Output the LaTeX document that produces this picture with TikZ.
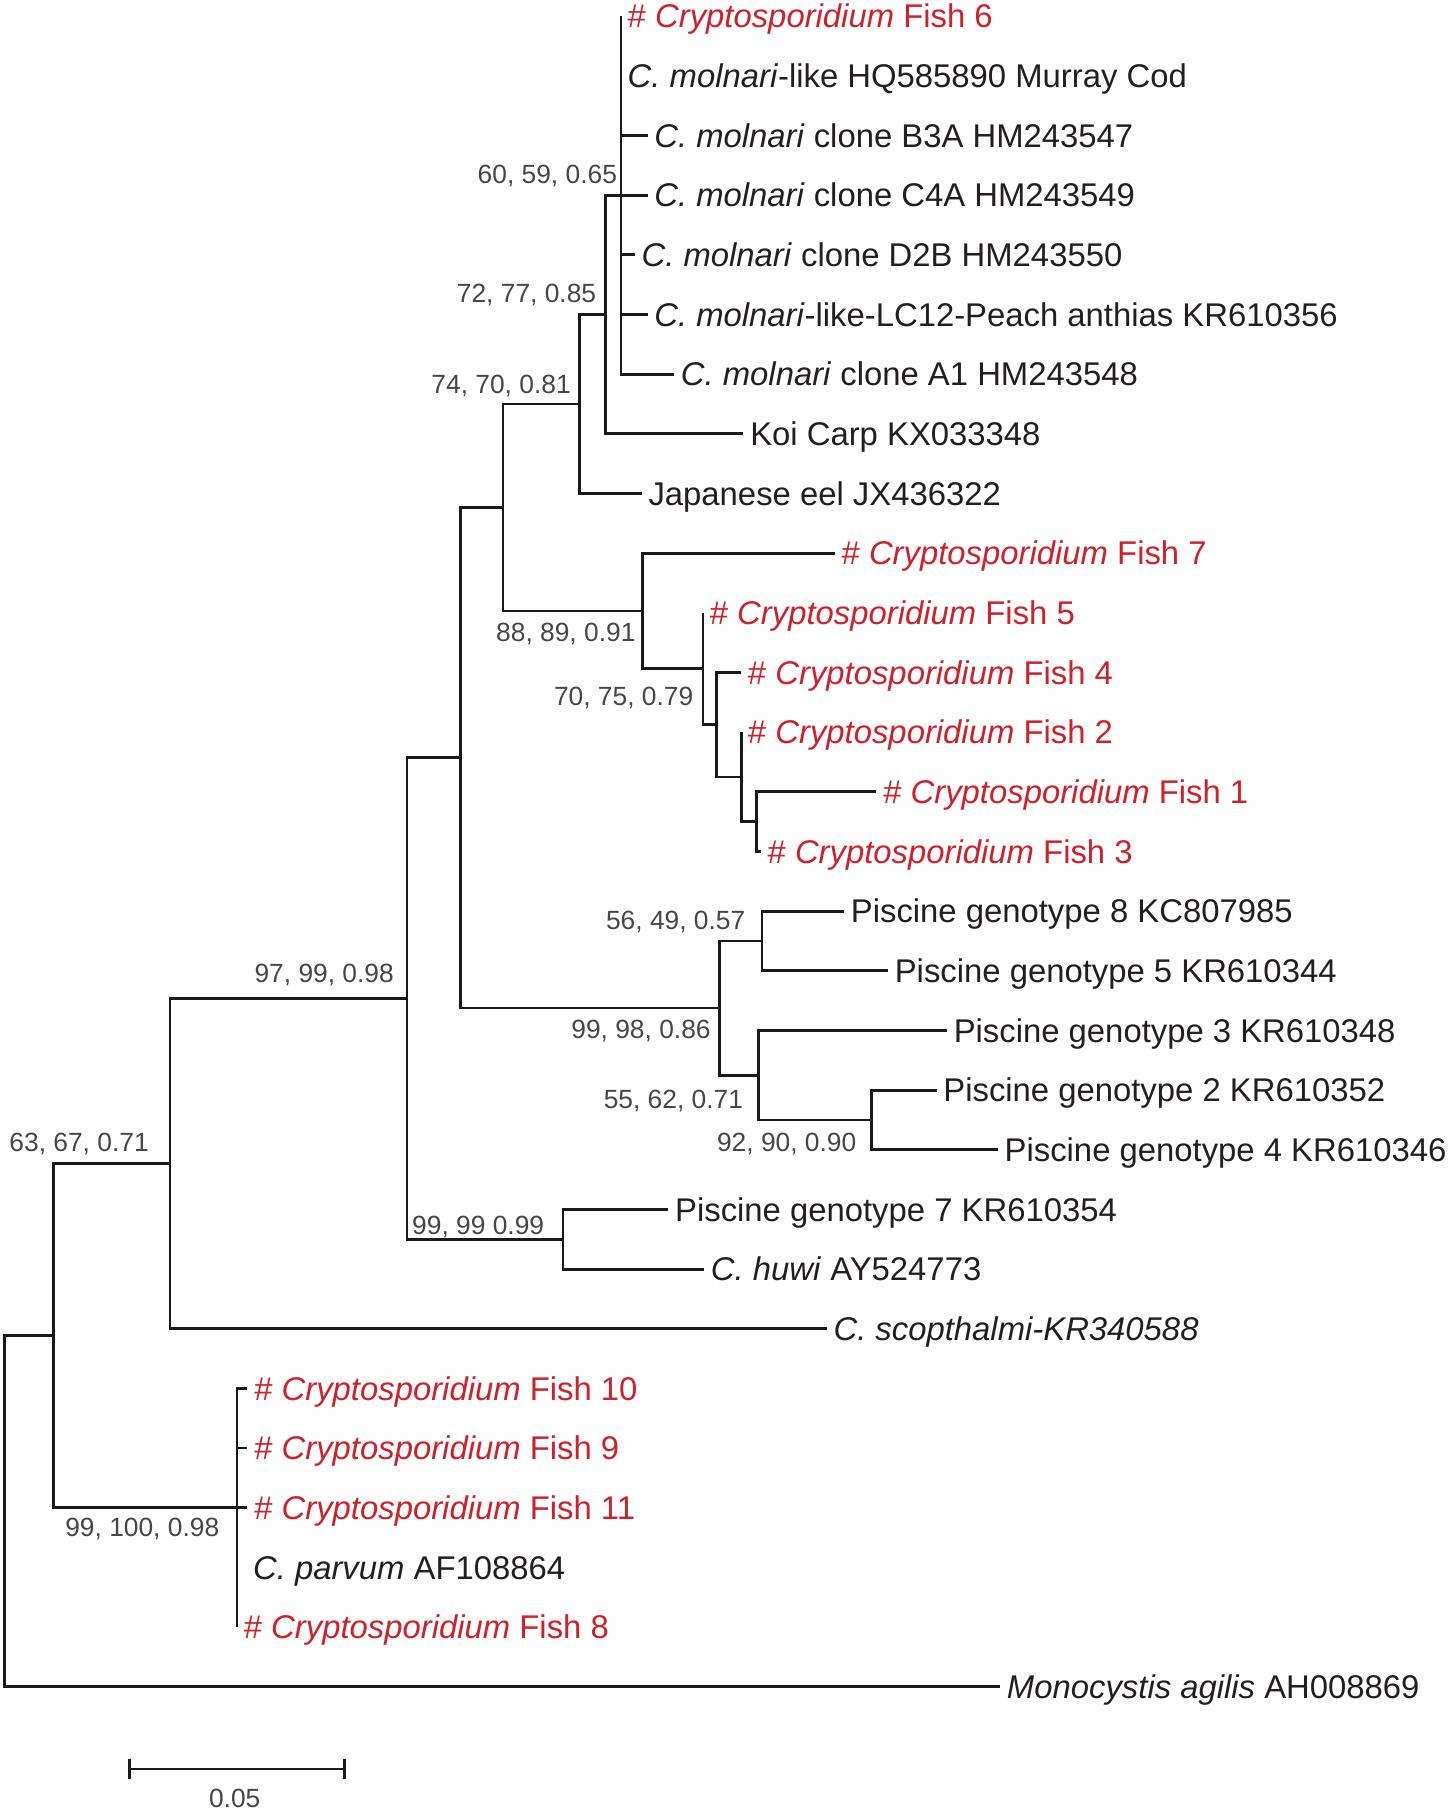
\documentclass[tikz,border=0pt]{standalone}
\usepackage{fontspec}
\setmainfont{Liberation Sans}
\usepackage{tikz}

\definecolor{fishred}{RGB}{208,32,42}
\definecolor{taxgray}{RGB}{35,31,32}
\definecolor{bsgray}{RGB}{70,70,70}

\begin{document}
\begin{tikzpicture}[x=0.5pt, y=-0.5pt,
		branch/.style={line width=1.2pt, draw=black!90},
		taxon/.style={anchor=base west, inner sep=0pt, xshift=2.75pt, yshift=-5.1pt, text=taxgray, font=\fontsize{14.2}{17}\selectfont},
		fish/.style={taxon, text=fishred},
		bs/.style={anchor=base east, inner sep=0pt, text=bsgray, font=\fontsize{11.4}{13}\selectfont}]
		\useasboundingbox (0,0) rectangle (1254,1568);

		% Define nodes (internal)
		\coordinate (root) at (4,1307);
		\coordinate (nS) at (46,1155.2);
		\coordinate (pR) at (205,1304);
		\coordinate (nQ) at (147,1006.4);
		\coordinate (nP) at (352,863.6);
		\coordinate (nO) at (487,1071.8);
		\coordinate (nN) at (398,655.4);
		\coordinate (nM) at (622,871.85);
		\coordinate (nJ) at (659,813.8);
		\coordinate (nL) at (656,929.9);
		\coordinate (nK) at (754,968.6);
		\coordinate (nI) at (435,438.9);
		\coordinate (nC) at (501,349.4);
		\coordinate (nB) at (524,272);
		\coordinate (pA) at (537,168.8);
		\coordinate (nD) at (556,528.4);
		\coordinate (nE) at (608,578.4);
		\coordinate (nF) at (620,626.75);
		\coordinate (nG) at (641,671.9);
		\coordinate (nH) at (654,710.6);

		% Define nodes (tips)
		\coordinate (t1) at (537,14);
		\coordinate (t2) at (537,65.6);
		\coordinate (t3) at (560,117.2);
		\coordinate (t4) at (560,168.8);
		\coordinate (t5) at (549,220.4);
		\coordinate (t6) at (560,272);
		\coordinate (t7) at (583,323.6);
		\coordinate (t8) at (643,375.2);
		\coordinate (t9) at (555,426.8);
		\coordinate (t10) at (722,478.4);
		\coordinate (t11) at (608,530);
		\coordinate (t12) at (641,581.6);
		\coordinate (t13) at (641,633.2);
		\coordinate (t14) at (758,684.8);
		\coordinate (t15) at (658,736.4);
		\coordinate (t16) at (730,788);
		\coordinate (t17) at (768,839.6);
		\coordinate (t18) at (819,891.2);
		\coordinate (t19) at (810,942.8);
		\coordinate (t20) at (863,994.4);
		\coordinate (t21) at (578,1046);
		\coordinate (t22) at (609,1097.6);
		\coordinate (t23) at (715,1149.2);
		\coordinate (t24) at (214,1200.8);
		\coordinate (t25) at (214,1252.4);
		\coordinate (t26) at (214,1304);
		\coordinate (t27) at (205,1355.6);
		\coordinate (t28) at (205,1407.2);
		\coordinate (t29) at (865,1458.8);

		\node[fish] (l1) at (t1) {\# \textit{Cryptosporidium} Fish 6};
		\node[taxon] (l2) at (t2) {\textit{C. molnari}-like HQ585890 Murray Cod};
		\node[taxon] (l3) at (t3) {\textit{C. molnari} clone B3A HM243547};
		\node[taxon] (l4) at (t4) {\textit{C. molnari} clone C4A HM243549};
		\node[taxon] (l5) at (t5) {\textit{C. molnari} clone D2B HM243550};
		\node[taxon] (l6) at (t6) {\textit{C. molnari}-like-LC12-Peach anthias KR610356};
		\node[taxon] (l7) at (t7) {\textit{C. molnari} clone A1 HM243548};
		\node[taxon] (l8) at (t8) {Koi Carp KX033348};
		\node[taxon] (l9) at (t9) {Japanese eel JX436322};
		\node[fish] (l10) at (t10) {\# \textit{Cryptosporidium} Fish 7};
		\node[fish] (l11) at (t11) {\# \textit{Cryptosporidium} Fish 5};
		\node[fish] (l12) at (t12) {\# \textit{Cryptosporidium} Fish 4};
		\node[fish] (l13) at (t13) {\# \textit{Cryptosporidium} Fish 2};
		\node[fish] (l14) at (t14) {\# \textit{Cryptosporidium} Fish 1};
		\node[fish] (l15) at (t15) {\# \textit{Cryptosporidium} Fish 3};
		\node[taxon] (l16) at (t16) {Piscine genotype 8 KC807985};
		\node[taxon] (l17) at (t17) {Piscine genotype 5 KR610344};
		\node[taxon] (l18) at (t18) {Piscine genotype 3 KR610348};
		\node[taxon] (l19) at (t19) {Piscine genotype 2 KR610352};
		\node[taxon] (l20) at (t20) {Piscine genotype 4 KR610346};
		\node[taxon] (l21) at (t21) {Piscine genotype 7 KR610354};
		\node[taxon] (l22) at (t22) {\textit{C. huwi} AY524773};
		\node[taxon] (l23) at (t23) {\textit{C. scopthalmi-KR340588}};
		\node[fish] (l24) at (t24) {\# \textit{Cryptosporidium} Fish 10};
		\node[fish] (l25) at (t25) {\# \textit{Cryptosporidium} Fish 9};
		\node[fish] (l26) at (t26) {\# \textit{Cryptosporidium} Fish 11};
		\node[taxon, xshift=4pt] (l27) at (t27) {\textit{C. parvum} AF108864};
		\node[fish] (l28) at (t28) {\# \textit{Cryptosporidium} Fish 8};
		\node[taxon] (l29) at (t29) {\textit{Monocystis agilis} AH008869};

		% Support values
		\node[bs] (b1) at (534,158.5) {60, 59, 0.65};
		\node[bs] (b2) at (516,261.5) {72, 77, 0.85};
		\node[bs] (b3) at (494,340.5) {74, 70, 0.81};
		\node[bs] (b4) at (550,555) {88, 89, 0.91};
		\node[bs] (b5) at (600,610) {70, 75, 0.79};
		\node[bs] (b6) at (645,803.5) {56, 49, 0.57};
		\node[bs] (b7) at (615,898) {99, 98, 0.86};
		\node[bs] (b8) at (643,959) {55, 62, 0.71};
		\node[bs] (b9) at (741,996) {92, 90, 0.90};
		\node[bs] (b10) at (341,849.5) {97, 99, 0.98};
		\node[bs] (b11) at (471,1067.5) {99, 99 0.99};
		\node[bs] (b12) at (129,995.5) {63, 67, 0.71};
		\node[bs] (b13) at (190,1329) {99, 100, 0.98};

		% Connect the nodes
		\foreach \p/\c in {root/nS, root/t29, nS/nQ, nS/pR,
				pR/t24, pR/t25, pR/t26, pR/t27, pR/t28,
				nQ/nP, nQ/t23, nP/nN, nP/nO, nO/t21, nO/t22,
				nN/nI, nN/nM, nM/nJ, nM/nL, nJ/t16, nJ/t17,
				nL/t18, nL/nK, nK/t19, nK/t20,
				nI/nC, nI/nD, nC/nB, nC/t9, nB/pA, nB/t8,
				pA/t1, pA/t2, pA/t3, pA/t4, pA/t5, pA/t6, pA/t7,
				nD/t10, nD/nE, nE/t11, nE/nF, nF/t12, nF/nG,
				nG/t13, nG/nH, nH/t14, nH/t15}
			\draw[branch] (\p) |- (\c);

		% Scale bar
		\coordinate (sbL) at (112,1530);
		\coordinate (sbR) at (298,1530);
		\draw[branch] (sbL) -- (sbR);
		\draw[branch] ([yshift=4.5pt]sbL) -- ([yshift=-4.5pt]sbL);
		\draw[branch] ([yshift=4.5pt]sbR) -- ([yshift=-4.5pt]sbR);
		\node[bs, anchor=center] (sbLab) at (203,1555) {0.05};
	\end{tikzpicture}
\end{document}
